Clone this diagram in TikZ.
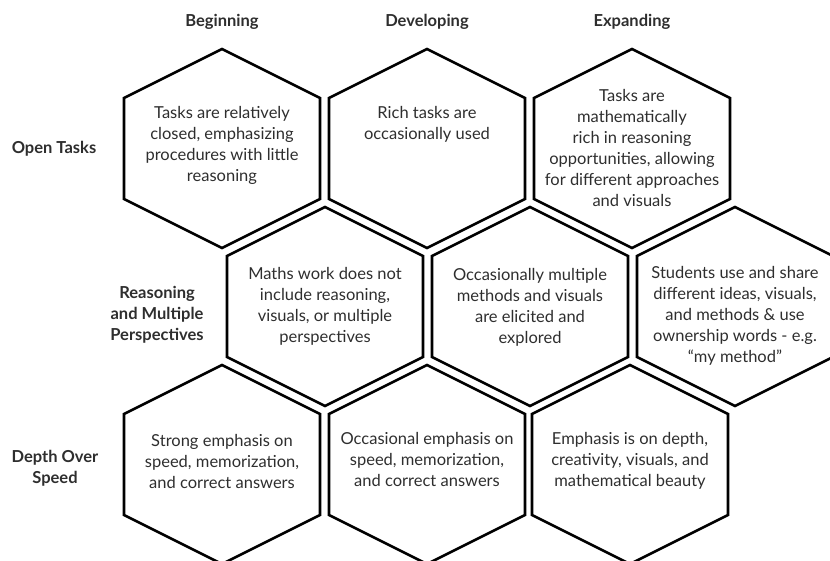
\documentclass[tikz,border=0pt]{standalone}
\usepackage{fontspec}
\setmainfont{Lato}
\usetikzlibrary{calc}
\definecolor{txt}{HTML}{2E2E2E}
\begin{document}
\begin{tikzpicture}[x=1pt,y=-1pt,
  hexline/.style={line width=2.6pt, line join=miter, draw=black},
  body/.style={font=\fontsize{16.5}{21}\selectfont, text=txt, align=center, inner sep=0pt, anchor=north},
  head/.style={font=\fontsize{16.5}{21}\selectfont\bfseries, text=txt, align=center, inner sep=0pt}]
\useasboundingbox (0,0) rectangle (830,560);
\clip (0,0) rectangle (830,560);
\newcommand{\hexagon}[3]{%
  \coordinate (#1) at (#2,#3);
  \draw[hexline] ($(#1)+(0,-99)$) -- ++(98,49) -- ++(0,101) -- ++(-98,49) -- ++(-98,-49) -- ++(0,-101) -- cycle;}
% row 1
\hexagon{h11}{222}{148}
\hexagon{h12}{427}{148}
\hexagon{h13}{632}{148}
% row 2
\hexagon{h21}{325}{306}
\hexagon{h22}{530}{306}
\hexagon{h23}{735}{306}
% row 3
\hexagon{h31}{222}{464}
\hexagon{h32}{427}{464}
\hexagon{h33}{630}{464}
% headers
\node[head] (c1) at (222,22) {Beginning};
\node[head] (c2) at (427,22) {Developing};
\node[head] (c3) at (632,22) {Expanding};
\node[head] (r1) at (54,149) {Open Tasks};
\node[head] (r2) at (157,315) {Reasoning\\and Multiple\\Perspectives};
\node[head] (r3) at (55,468) {Depth Over\\Speed};
% texts
\node[body] (t11) at (222,106) {Tasks are relatively\\closed, emphasizing\\procedures with little\\reasoning};
\node[body] (t12) at (427,106) {Rich tasks are\\occasionally used};
\node[body] (t13) at (632,89) {Tasks are\\mathematically\\rich in reasoning\\opportunities, allowing\\for different approaches\\and visuals};
\node[body] (t21) at (325,267) {Maths work does not\\include reasoning,\\visuals, or multiple\\perspectives};
\node[body] (t22) at (530,268) {Occasionally multiple\\methods and visuals\\are elicited and\\explored};
\node[body] (t23) at (735,266) {Students use and share\\different ideas, visuals,\\and methods \& use\\ownership words - e.g.\\“my method”};
\node[body] (t31) at (222,434) {Strong emphasis on\\speed, memorization,\\and correct answers};
\node[body] (t32) at (427,432) {Occasional emphasis on\\speed, memorization,\\and correct answers};
\node[body] (t33) at (630,432) {Emphasis is on depth,\\creativity, visuals, and\\mathematical beauty};
\end{tikzpicture}
\end{document}
